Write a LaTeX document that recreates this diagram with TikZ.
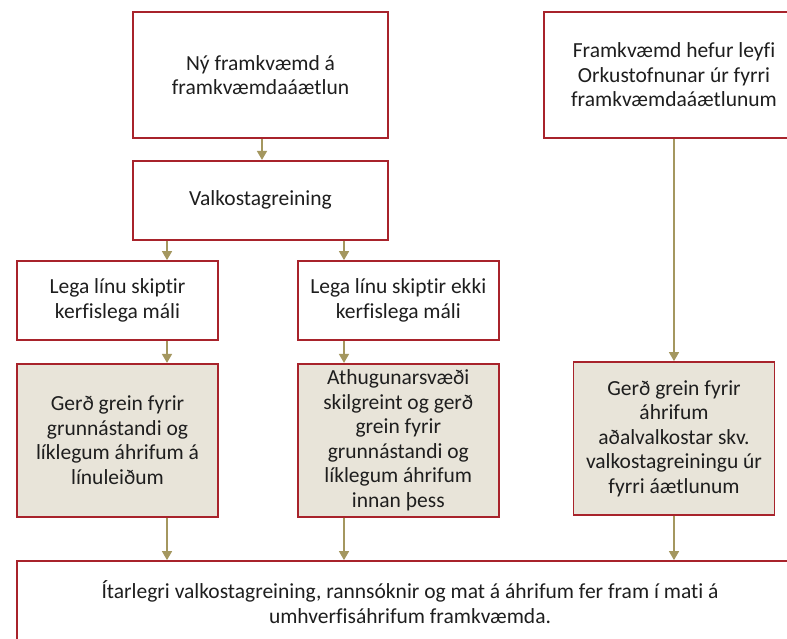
\documentclass[tikz,border=0pt]{standalone}
\usepackage{fontspec}
\setmainfont{Carlito}[Ligatures=NoCommon]
\usepackage{tikz}
\usetikzlibrary{arrows.meta,positioning,calc}
\usepackage{xcolor}
\definecolor{frame}{HTML}{A8232B}
\definecolor{shade}{HTML}{E8E4D9}
\definecolor{link}{HTML}{A4975F}
\definecolor{ink}{HTML}{1E1E1E}

\begin{document}
\begin{tikzpicture}[
  x=1pt, y=-1pt,
  every node/.style={font=\fontsize{21.5}{24.5}\selectfont, text=ink},
  plain/.style={
    draw=frame, fill=white, line width=1.8pt,
    align=center, inner sep=2pt
  },
  shaded/.style={plain, fill=shade},
  arr/.style={-{Triangle[length=9pt,width=10pt]}, line width=1.5pt, draw=link}
]
  \useasboundingbox (0,0) rectangle (787,638);
  \fill[white] (0,0) rectangle (787,638);
  \clip (0,0) rectangle (787,638);

  % top row
  \node[plain, minimum width=255pt, minimum height=126pt] (plan) at (260.5,75)
    {Ný framkvæmd á\\framkvæmdaáætlun};
  \node[plain, minimum width=255pt, minimum height=79pt, below=21pt of plan] (valko)
    {Valkostagreining};
  \node[plain, minimum width=260pt, minimum height=126pt] (permit) at (674,75)
    {Framkvæmd hefur leyfi\\Orkustofnunar úr fyrri\\framkvæmdaáætlunum};

  % middle rows
  \node[plain, minimum width=201pt, minimum height=79pt] (split) at (117.5,300.5)
    {Lega línu skiptir\\kerfislega máli};
  \node[plain, minimum width=201pt, minimum height=79pt, right=78pt of split] (nosplit)
    {Lega línu skiptir ekki\\kerfislega máli};
  \node[shaded, minimum width=201pt, minimum height=153pt, below=22pt of split] (lines)
    {Gerð grein fyrir\\grunnástandi og\\líklegum áhrifum á\\línuleiðum};
  \node[shaded, minimum width=201pt, minimum height=153pt, below=22pt of nosplit] (area)
    {Athugunarsvæði\\skilgreint og gerð\\grein fyrir\\grunnástandi og\\líklegum áhrifum\\innan þess};
  \node[shaded, minimum width=201pt, minimum height=153pt] (main) at (674,438.5)
    {Gerð grein fyrir\\áhrifum\\aðalvalkostar skv.\\valkostagreiningu úr\\fyrri áætlunum};

  % bottom
  \node[plain, minimum width=786pt, minimum height=82pt] (eia) at (410,602)
    {Ítarlegri valkostagreining, rannsóknir og mat á áhrifum fer fram í mati á\\umhverfisáhrifum framkvæmda.};

  \coordinate (colA) at (167,0);
  \coordinate (colB) at (344,0);

  \draw[arr] (plan.south -| 262,0) -- (valko.north -| 262,0);
  \draw[arr] (valko.south -| colA) -- (split.north -| colA);
  \draw[arr] (valko.south -| colB) -- (nosplit.north -| colB);
  \draw[arr] (split.south -| colA) -- (lines.north -| colA);
  \draw[arr] (nosplit.south -| colB) -- (area.north -| colB);
  \draw[arr] (permit) -- (main);
  \draw[arr] (lines.south -| colA) -- (eia.north -| colA);
  \draw[arr] (area.south -| colB) -- (eia.north -| colB);
  \draw[arr] (main) -- (eia.north -| main);
\end{tikzpicture}
\end{document}
